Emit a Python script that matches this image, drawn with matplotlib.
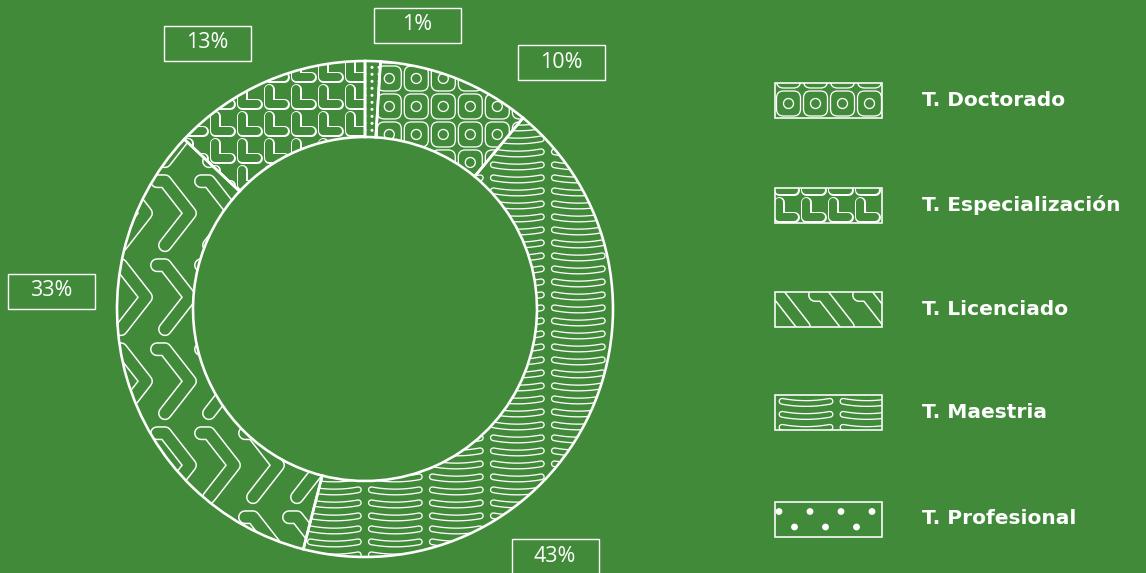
import numpy as np
import matplotlib
matplotlib.use('Agg')
import matplotlib.pyplot as plt
from matplotlib.patches import Rectangle, FancyBboxPatch, Circle
from matplotlib.collections import LineCollection, PatchCollection

W, H = 1146, 573
BG = '#418a39'
WHITE = 'white'
PT = 0.72  # px -> pt at 100 dpi

# data (clockwise from 12 o'clock)
categories = ['T. Profesional', 'T. Doctorado', 'T. Maestria', 'T. Licenciado', 'T. Especialización']
shares = [1, 10, 43, 33, 13]
legend_order = ['T. Doctorado', 'T. Especialización', 'T. Licenciado', 'T. Maestria', 'T. Profesional']

# label box centres in image pixels (y down), same order as categories
label_pos = [(417, 25), (561, 62), (555, 556), (51, 291), (207, 43)]


def outline_lines(ax, segs, clip, w_out, w_in):
    # white thick stroke, green thinner stroke on top -> outlined band
    for lw, col, z in [(w_out, WHITE, 2), (w_in, BG, 2.1)]:
        lc = LineCollection(segs, colors=col, linewidths=lw * PT,
                            capstyle='round', joinstyle='round', zorder=z)
        ax.add_collection(lc)
        lc.set_clip_path(clip)


def pat_doctorado(ax, ext, clip):
    x0, y0, x1, y1 = ext
    pats = []
    for x in np.arange(x0 - 27, x1 + 27, 27):
        for y in np.arange(y0 - 28, y1 + 28, 28):
            pats.append(FancyBboxPatch((x + 1.5, y + 1.5), 24, 25,
                                       boxstyle='round,pad=0,rounding_size=7'))
            pats.append(Circle((x + 13.5, y + 14), 5))
    pc = PatchCollection(pats, facecolor='none', edgecolor=WHITE, linewidth=1.3 * PT, zorder=2)
    ax.add_collection(pc)
    pc.set_clip_path(clip)


def pat_maestria(ax, ext, clip):
    x0, y0, x1, y1 = ext
    t = np.linspace(-24, 24, 12)
    segs = []
    for x in np.arange(x0 - 30, x1 + 61, 61):
        for y in np.arange(y0 - 13, y1 + 13, 13):
            segs.append(np.column_stack([x + t, y + 2.2 * (t / 24) ** 2]))
    outline_lines(ax, segs, clip, 7, 4.4)


def pat_licenciado(ax, ext, clip):
    x0, y0, x1, y1 = ext
    segs = []
    for x in np.arange(x0 - 40, x1 + 45, 44):
        for y in np.arange(y0 - 84, y1 + 84, 84):
            segs.append([(x - 8, y + 32), (x, y + 32), (x + 25, y), (x, y - 32)])
    outline_lines(ax, segs, clip, 14, 11)


def pat_especializacion(ax, ext, clip):
    x0, y0, x1, y1 = ext
    segs = []
    for x in np.arange(x0 - 27, x1 + 27, 27):
        for y in np.arange(y0 - 27, y1 + 27, 27):
            segs.append([(x + 4, y + 21), (x + 4, y + 6), (x + 19, y + 6)])
    outline_lines(ax, segs, clip, 11, 8)


def pat_profesional(ax, ext, clip, step=7, rad=1.5, stagger=False):
    x0, y0, x1, y1 = ext
    pats = []
    for j, y in enumerate(np.arange(y0 - step, y1 + step, step)):
        shift = step if (stagger and j % 2) else 0
        dx = 2 * step if stagger else step
        for x in np.arange(x0 - dx + shift, x1 + dx, dx):
            pats.append(Circle((x, y), rad))
    pc = PatchCollection(pats, facecolor=WHITE, edgecolor='none', zorder=2)
    ax.add_collection(pc)
    pc.set_clip_path(clip)


patterns = {
    'T. Profesional': pat_profesional,
    'T. Doctorado': pat_doctorado,
    'T. Maestria': pat_maestria,
    'T. Licenciado': pat_licenciado,
    'T. Especialización': pat_especializacion,
}

fig = plt.figure(figsize=(W / 100, H / 100), dpi=100, facecolor=BG)
ax = fig.add_axes([0, 0, 1, 1])
ax.set_facecolor(BG)

cx, cy = 365, H - 309
r_out, ring = 248, 76

wedges, _ = ax.pie(shares, startangle=90, counterclock=False, center=(cx, cy), radius=r_out,
                   wedgeprops=dict(width=ring, facecolor='none', edgecolor=WHITE,
                                   linewidth=2.6 * PT, zorder=3))
ax.set_xlim(0, W)
ax.set_ylim(0, H)
ax.set_aspect('equal')
ax.axis('off')

for name, wdg in zip(categories, wedges):
    wdg.set_zorder(3)
    ext = wdg.get_path().get_extents()
    patterns[name](ax, (ext.x0, ext.y0, ext.x1, ext.y1), wdg)

# percentage labels
for val, (lx, ly) in zip(shares, label_pos):
    ax.add_patch(Rectangle((lx - 43.5, H - ly - 17.5), 87, 35, facecolor='none',
                           edgecolor=WHITE, linewidth=1.4 * PT, zorder=4))
    ax.text(lx, H - ly, f'{val}%', ha='center', va='center', color=WHITE,
            fontsize=15.5, family='Open Sans', fontweight='normal', zorder=5)

# legend
leg_y = [100, 205, 309.5, 412, 519]
for name, yy in zip(legend_order, leg_y):
    box = Rectangle((775, H - yy - 17.5), 107, 35, facecolor='none',
                    edgecolor=WHITE, linewidth=1.6 * PT, zorder=3)
    ax.add_patch(box)
    bb = (775, H - yy - 17.5, 882, H - yy + 17.5)
    if name == 'T. Profesional':
        pat_profesional(ax, (bb[0] + 4, bb[1] + 9.5, bb[2], bb[3]), box,
                        step=15.5, rad=3.4, stagger=True)
    else:
        patterns[name](ax, bb, box)
    ax.text(922, H - yy, name, ha='left', va='center', color=WHITE,
            fontsize=14.5, family='DejaVu Sans', fontweight='bold')

fig.savefig('out.png', dpi=100, facecolor=BG)
